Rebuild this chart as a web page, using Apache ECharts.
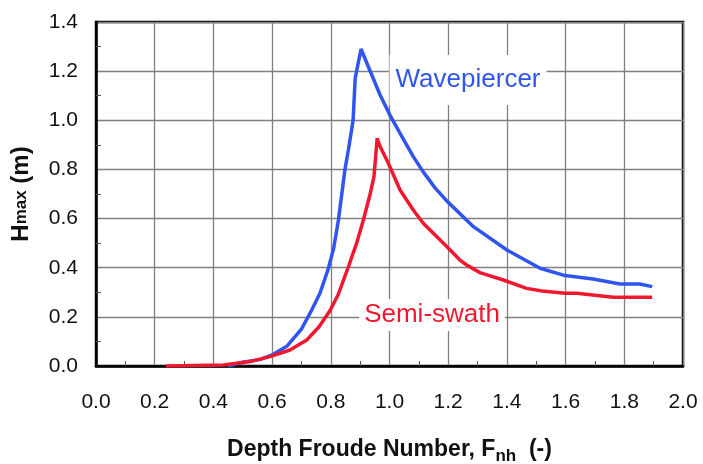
<!DOCTYPE html>
<html>
<head>
<meta charset="utf-8">
<script src="https://cdn.jsdelivr.net/npm/echarts@6/dist/echarts.min.js"></script>
<style>
  html, body { margin: 0; padding: 0; background: #fff; }
  #chart { width: 703px; height: 464px; }
</style>
</head>
<body>
<div id="chart"></div>
<script>
// Maximum wave height versus depth Froude number for two hull forms
const wavepiercerFr = [0.45, 0.50, 0.56, 0.60, 0.65, 0.70, 0.735, 0.763, 0.79, 0.81, 0.826, 0.848, 0.86, 0.876, 0.883, 0.903,
  0.928, 0.968, 1.002, 1.036, 1.081, 1.115, 1.155, 1.195, 1.286, 1.40, 1.513, 1.598, 1.694, 1.785, 1.853, 1.895];
const wavepiercerH = [0.0, 0.015, 0.027, 0.045, 0.08, 0.15, 0.228, 0.296, 0.39, 0.48, 0.594, 0.798, 0.88, 1.0, 1.17, 1.29,
  1.218, 1.103, 1.02, 0.947, 0.852, 0.79, 0.725, 0.672, 0.567, 0.472, 0.398, 0.368, 0.354, 0.334, 0.334, 0.323];

const semiSwathFr = [0.238, 0.434, 0.525, 0.593, 0.661, 0.718, 0.76, 0.797, 0.825, 0.86, 0.888, 0.911, 0.934, 0.947, 0.958,
  0.968, 0.996, 1.036, 1.081, 1.115, 1.195, 1.24, 1.263, 1.308, 1.388, 1.467, 1.52, 1.598, 1.638, 1.70, 1.763, 1.895];
const semiSwathH = [0.0, 0.004, 0.018, 0.038, 0.065, 0.106, 0.16, 0.225, 0.29, 0.404, 0.50, 0.594, 0.70, 0.77, 0.927,
  0.893, 0.825, 0.716, 0.635, 0.581, 0.486, 0.431, 0.411, 0.38, 0.35, 0.316, 0.305, 0.296, 0.296, 0.288, 0.28, 0.28];

const seriesNames = ['Wavepiercer', 'Semi-swath'];

const pairs = (xs, ys) => xs.map((x, i) => [x, ys[i]]);

const BLUE = '#2f55ee';
const RED = '#f0182f';
const FONT = '"Liberation Sans", Arial, sans-serif';

const chart = echarts.init(document.getElementById('chart'), null, { renderer: 'canvas' });

const axisCommon = {
  type: 'value',
  axisLine: { show: true, lineStyle: { color: '#000', width: 2.5 } },
  axisTick: { show: false, inside: true },
  minorTick: { show: true, splitNumber: 2, length: 5, lineStyle: { color: '#555', width: 1 } },
  splitLine: { show: true, lineStyle: { color: '#808080', width: 1.3 } },
  axisLabel: { color: '#111', fontSize: 21, fontFamily: FONT, formatter: v => v.toFixed(1) }
};

function inlineLabel(name, coord, color, padding) {
  return {
    symbol: 'rect',
    symbolSize: 1,
    silent: true,
    itemStyle: { color: 'rgba(0,0,0,0)' },
    label: {
      show: true,
      position: 'inside',
      formatter: name,
      color: color,
      fontSize: 26,
      fontFamily: FONT,
      backgroundColor: '#fff',
      padding: padding
    },
    data: [{ coord: coord }]
  };
}

chart.setOption({
  animation: false,
  backgroundColor: '#fff',
  grid: {
    left: 96, right: 20, top: 22, bottom: 98,
    containLabel: false,
    outerBoundsMode: 'none',
    show: true, borderColor: '#000', borderWidth: 2.5, backgroundColor: 'transparent'
  },
  xAxis: Object.assign({}, axisCommon, {
    min: 0, max: 2, interval: 0.2,
    axisLabel: Object.assign({}, axisCommon.axisLabel, { margin: 26 }),
    name: '{a|Depth Froude Number, F}{b|nh}{a|  (-)}',
    nameLocation: 'middle',
    nameGap: 72,
    nameTextStyle: {
      rich: {
        a: { fontSize: 23, fontWeight: 'bold', fontFamily: FONT, color: '#111', verticalAlign: 'top' },
        b: { fontSize: 17, fontWeight: 'bold', fontFamily: FONT, color: '#111', verticalAlign: 'top', padding: [10, 0, 0, 0] }
      }
    }
  }),
  yAxis: Object.assign({}, axisCommon, {
    min: 0, max: 1.4, interval: 0.2,
    axisLabel: Object.assign({}, axisCommon.axisLabel, { margin: 18 }),
    name: '{h|H}{s|max}{h| (m)}',
    nameLocation: 'middle',
    nameRotate: 90,
    nameGap: 63,
    nameTextStyle: {
      rich: {
        h: { fontSize: 24, fontWeight: 'bold', fontFamily: FONT, color: '#111', verticalAlign: 'bottom' },
        s: { fontSize: 17, fontWeight: 'bold', fontFamily: FONT, color: '#111', verticalAlign: 'bottom', padding: [0, 0, 3, 0] }
      }
    }
  }),
  series: [
    {
      name: seriesNames[0],
      type: 'line',
      data: pairs(wavepiercerFr, wavepiercerH),
      showSymbol: false,
      lineStyle: { color: BLUE, width: 3.5 },
      itemStyle: { color: BLUE },
      z: 3,
      markPoint: inlineLabel(seriesNames[0], [1.2675, 1.164], BLUE, [12, 6, 12, 6])
    },
    {
      name: seriesNames[1],
      type: 'line',
      data: pairs(semiSwathFr, semiSwathH),
      showSymbol: false,
      lineStyle: { color: RED, width: 3.5 },
      itemStyle: { color: RED },
      z: 4,
      markPoint: inlineLabel(seriesNames[1], [1.145, 0.2076], RED, [3, 5, 3, 5])
    }
  ]
});
</script>
</body>
</html>
